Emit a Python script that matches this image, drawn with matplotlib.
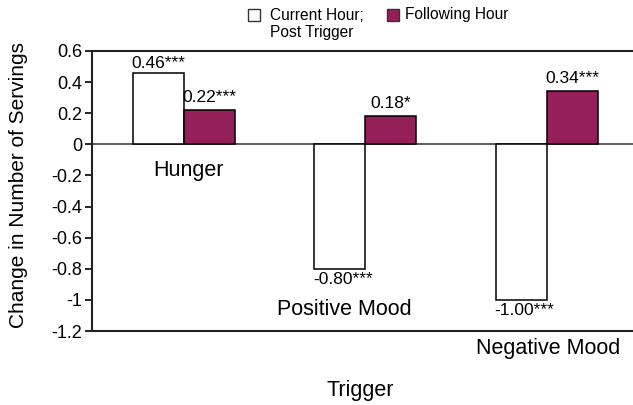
import numpy as np
import matplotlib.pyplot as plt
from matplotlib.patches import Rectangle

plt.rcParams['font.family'] = ['Liberation Sans', 'DejaVu Sans']

# data
triggers = ['Hunger', 'Positive Mood', 'Negative Mood']
current_hour = [0.46, -0.80, -1.00]
following_hour = [0.22, 0.18, 0.34]
current_stars = ['***', '***', '***']
following_stars = ['***', '*', '***']
yticks = [0.6, 0.4, 0.2, 0, -0.2, -0.4, -0.6, -0.8, -1, -1.2]
ytick_labels = ['0.6', '0.4', '0.2', '0', '-0.2', '-0.4', '-0.6', '-0.8', '-1', '-1.2']

# where the trigger names sit (x offset from group centre, y in data units)
name_pos = [(0.025, -0.17), (-0.115, -1.06), (0.005, -1.315)]

purple = '#951F58'
w = 0.28

fig = plt.figure(figsize=(6.33, 4.05), dpi=100)
ax = fig.add_axes([0.1453, 0.1827, 0.8547 + 0.01, 0.6914])

x = np.arange(len(triggers))
b1 = ax.bar(x - w / 2, current_hour, w, color='white', edgecolor='black', linewidth=1.1, zorder=3)
b2 = ax.bar(x + w / 2, following_hour, w, color=purple, edgecolor='black', linewidth=1.1, zorder=3)

ax.axhline(0, color='#333333', linewidth=1.1, zorder=2)

for i in range(len(triggers)):
    v = current_hour[i]
    lab = '%.2f%s' % (v, current_stars[i])
    if v >= 0:
        ax.annotate(lab, (x[i] - w / 2, v), xytext=(0, 1), textcoords='offset points',
                    ha='center', va='bottom', fontsize=12.5)
    else:
        ax.annotate(lab, (x[i] - w / 2, v), xytext=(2, -2), textcoords='offset points',
                    ha='center', va='top', fontsize=12.5)
    v = following_hour[i]
    lab = '%.2f%s' % (v, following_stars[i])
    ax.annotate(lab, (x[i] + w / 2, v), xytext=(0, 4), textcoords='offset points',
                ha='center', va='bottom', fontsize=12.5)

for i, name in enumerate(triggers):
    dx, dy = name_pos[i]
    ax.text(x[i] + dx, dy, name, ha='center', va='center', fontsize=15.5, clip_on=False)

ax.set_xlim(-0.506, 2.51)
ax.set_ylim(-1.2, 0.6)
ax.set_yticks(yticks)
ax.set_yticklabels(ytick_labels, fontsize=13)
ax.set_xticks([])
ax.tick_params(axis='y', direction='out', length=5, width=1.2, pad=2)
ax.spines['right'].set_visible(False)
for s in ['top', 'left', 'bottom']:
    ax.spines[s].set_linewidth(1.5)
    ax.spines[s].set_color('#222222')

fig.text(19 / 633, 1 - 185 / 405, 'Change in Number of Servings', rotation=90,
         ha='center', va='center', fontsize=15)
fig.text(0.569, 0.037, 'Trigger', ha='center', va='center', fontsize=15.5)

# legend drawn by hand
fig.patches.append(Rectangle((248 / 633, 1 - 21 / 405), 12 / 633, 12 / 405,
                             transform=fig.transFigure, facecolor='white',
                             edgecolor='#333333', linewidth=1.0))
fig.text(270 / 633, 1 - 15 / 405, 'Current Hour;', ha='left', va='center', fontsize=11.2)
fig.text(270 / 633, 1 - 33 / 405, 'Post Trigger', ha='left', va='center', fontsize=11.2)
fig.patches.append(Rectangle((387 / 633, 1 - 21 / 405), 12 / 633, 12 / 405,
                             transform=fig.transFigure, facecolor=purple,
                             edgecolor='#333333', linewidth=1.0))
fig.text(405 / 633, 1 - 15 / 405, 'Following Hour', ha='left', va='center', fontsize=11.2)

fig.savefig('out.png', dpi=100)
